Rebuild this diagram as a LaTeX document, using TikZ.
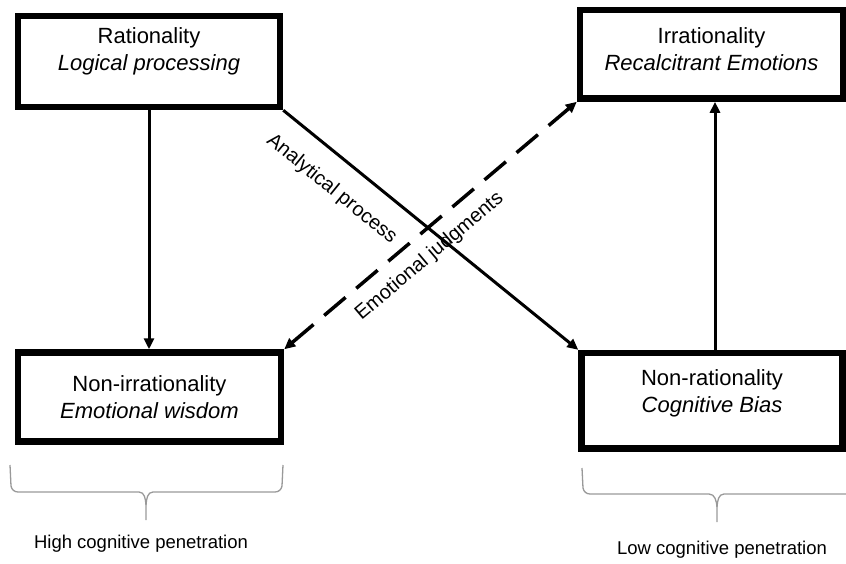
\documentclass[tikz,border=0pt]{standalone}
\usepackage{fontspec}
\setmainfont{Liberation Sans}
\usetikzlibrary{arrows.meta}
\begin{document}
\begin{tikzpicture}[x=1pt,y=-1pt,
  box/.style={draw, line width=6.5pt, align=center, inner sep=0pt,
    font=\fontsize{22}{26.5}\selectfont},
  arr/.style={line width=3pt, -{Triangle[length=11pt,width=10pt]}},
  dasharr/.style={line width=3.5pt, dash pattern=on 28pt off 14pt,
    {Triangle[length=11pt,width=10pt]}-{Triangle[length=11pt,width=10pt]}},
  lbl/.style={font=\fontsize{20}{24}\selectfont, inner sep=0pt},
  captext/.style={font=\fontsize{18.5}{22}\selectfont, inner sep=0pt},
  bracestyle/.style={draw=black!40, line width=1.3pt, line join=round}]
\useasboundingbox (0,0) rectangle (846,563);

\node[box, minimum width=262pt, minimum height=91pt, text depth=24.5pt] (r) at (149,61.5)
  {Rationality\\\textit{Logical processing}};
\node[box, minimum width=263pt, minimum height=88.5pt, text depth=10.8pt] (irr) at (711.5,54.3)
  {Irrationality\\\textit{Recalcitrant Emotions}};
\node[box, minimum width=263pt, minimum height=89pt] (nir) at (149.5,397)
  {Non-irrationality\\\textit{Emotional wisdom}};
\node[box, minimum width=261pt, minimum height=95.5pt, text depth=19.8pt] (nr) at (712,400.8)
  {Non-rationality\\\textit{Cognitive Bias}};

\draw[arr] (r.south) -- (r.south |- nir.north);
\draw[arr] ([xshift=3pt]nr.north) -- ([xshift=3pt]nr.north |- irr.south);

\draw[arr] (r.south east) -- node[lbl, pos=0.23, sloped, below=20pt] {Analytical process} (nr.north west);
\draw[dasharr] (nir.north east) -- node[lbl, pos=0.446, sloped, below=12pt] {Emotional judgments} (irr.south west);

% braces
\draw[bracestyle] (10,465) -- (11,486) to[out=-80,in=180] (18,492) -- (139,492)
  to[out=0,in=95] (146,505) -- (146,520);
\draw[bracestyle] (146,505) to[out=85,in=180] (153,492) -- (275,492)
  to[out=0,in=-100] (282,486) -- (283,465);
\draw[bracestyle] (582,468) -- (583,488) to[out=-80,in=180] (590,494) -- (709,494)
  to[out=0,in=95] (717,507) -- (717,522);
\draw[bracestyle] (717,507) to[out=85,in=180] (724,494) -- (860,494);

\node[captext] (hi) at (141,544) {High cognitive penetration};
\node[captext] (lo) at (722,550) {Low cognitive penetration};
\end{tikzpicture}
\end{document}
